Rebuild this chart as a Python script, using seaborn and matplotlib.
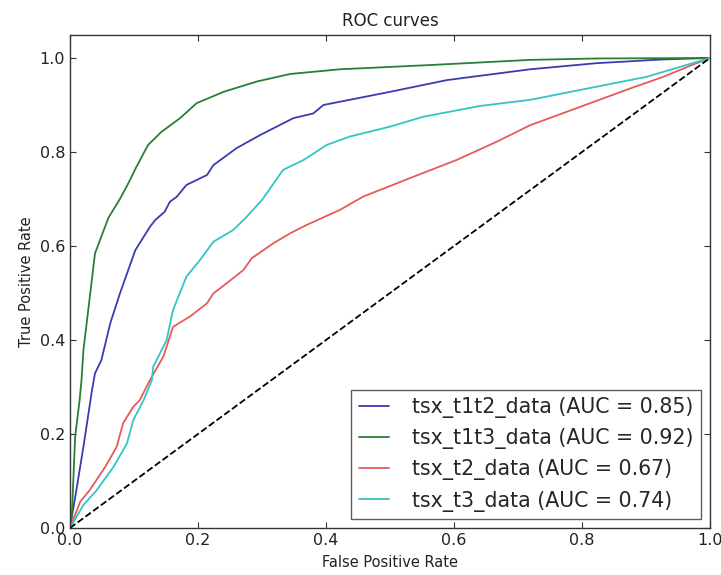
import matplotlib
matplotlib.use("Agg")
import matplotlib.pyplot as plt
import seaborn as sns
import numpy as np
import pandas as pd

# ROC points (fpr, tpr)
fpr_t1t2 = [0.0, 0.010, 0.021, 0.034, 0.039, 0.049, 0.063, 0.078, 0.102, 0.125, 0.133, 0.148,
            0.156, 0.167, 0.182, 0.214, 0.224, 0.260, 0.297, 0.349, 0.380, 0.396, 0.422,
            0.500, 0.589, 0.719, 0.823, 0.927, 1.0]
tpr_t1t2 = [0.0, 0.081, 0.173, 0.290, 0.329, 0.357, 0.436, 0.499, 0.591, 0.641, 0.655, 0.673,
            0.694, 0.705, 0.730, 0.751, 0.772, 0.808, 0.836, 0.872, 0.882, 0.900, 0.907,
            0.928, 0.953, 0.976, 0.989, 0.997, 1.0]

fpr_t1t3 = [0.0, 0.003, 0.008, 0.015, 0.018, 0.021, 0.031, 0.039, 0.060, 0.078, 0.091, 0.104,
            0.122, 0.143, 0.172, 0.198, 0.240, 0.292, 0.344, 0.422, 0.5625, 0.719, 0.823, 1.0]
tpr_t1t3 = [0.0, 0.030, 0.194, 0.272, 0.315, 0.379, 0.492, 0.584, 0.660, 0.700, 0.733, 0.769,
            0.815, 0.843, 0.872, 0.904, 0.928, 0.950, 0.966, 0.976, 0.985, 0.996, 0.999, 1.0]

fpr_t2 = [0.0, 0.016, 0.031, 0.055, 0.073, 0.083, 0.099, 0.109, 0.125, 0.146, 0.161, 0.1875,
          0.214, 0.224, 0.245, 0.271, 0.284, 0.318, 0.344, 0.370, 0.422, 0.458, 0.536,
          0.604, 0.667, 0.719, 0.797, 0.875, 0.927, 0.979, 1.0]
tpr_t2 = [0.0, 0.056, 0.081, 0.130, 0.173, 0.223, 0.258, 0.272, 0.315, 0.365, 0.428, 0.450,
          0.478, 0.499, 0.521, 0.549, 0.574, 0.606, 0.627, 0.645, 0.677, 0.705, 0.747,
          0.783, 0.822, 0.857, 0.896, 0.935, 0.960, 0.989, 1.0]

fpr_t3 = [0.0, 0.021, 0.042, 0.068, 0.089, 0.099, 0.115, 0.128, 0.130, 0.151, 0.161, 0.182,
          0.203, 0.224, 0.255, 0.276, 0.300, 0.333, 0.365, 0.401, 0.4375, 0.500, 0.552,
          0.641, 0.719, 0.823, 0.901, 0.953, 1.0]
tpr_t3 = [0.0, 0.049, 0.081, 0.130, 0.180, 0.230, 0.272, 0.315, 0.343, 0.400, 0.464, 0.535,
          0.570, 0.609, 0.634, 0.662, 0.698, 0.762, 0.783, 0.815, 0.833, 0.854, 0.875,
          0.898, 0.911, 0.939, 0.960, 0.981, 1.0]

labels = ["tsx_t1t2_data (AUC = 0.85)", "tsx_t1t3_data (AUC = 0.92)",
          "tsx_t2_data (AUC = 0.67)", "tsx_t3_data (AUC = 0.74)"]
colors = ["#3b3bb0", "#2a7f36", "#e65a5a", "#35c3c3"]

curves = [(fpr_t1t2, tpr_t1t2), (fpr_t1t3, tpr_t1t3), (fpr_t2, tpr_t2), (fpr_t3, tpr_t3)]
df = pd.concat([pd.DataFrame({"fpr": f, "tpr": t, "curve": lab})
                for (f, t), lab in zip(curves, labels)], ignore_index=True)

sns.set_style("ticks", {"xtick.direction": "in", "ytick.direction": "in",
                        "axes.edgecolor": "#333333"})
plt.rcParams["font.family"] = ["DejaVu Sans"]

fig = plt.figure(figsize=(7.21, 5.75), dpi=100)
ax = fig.add_axes([70 / 721, 1 - 528 / 575, 640 / 721, 493.5 / 575])

sns.lineplot(data=df, x="fpr", y="tpr", hue="curve", palette=colors, sort=False,
             estimator=None, linewidth=1.3, ax=ax)
ax.plot([0, 1], [0, 1], "k--", linewidth=1.3)

ax.set_xlim(0, 1.0)
ax.set_ylim(0, 1.05)
ax.set_xticks([0.0, 0.2, 0.4, 0.6, 0.8, 1.0])
ax.set_yticks([0.0, 0.2, 0.4, 0.6, 0.8, 1.0])
ax.tick_params(top=True, right=True, length=4, labelsize=11.5, colors="#333333",
               labelcolor="#222222")
for s in ax.spines.values():
    s.set_linewidth(1.0)

ax.set_xlabel("False Positive Rate", fontsize=10.5, color="#222222", labelpad=5)
ax.set_ylabel("True Positive Rate", fontsize=10.5, color="#222222")
ax.set_title("ROC curves", fontsize=12, color="#222222")

leg = ax.legend(loc="lower right", fontsize=14.8, frameon=True, fancybox=False,
                edgecolor="#333333", borderaxespad=0.45, handlelength=1.5,
                handletextpad=1.1, borderpad=0.35)
leg.get_frame().set_linewidth(1.0)

fig.savefig("out.png", dpi=100)
